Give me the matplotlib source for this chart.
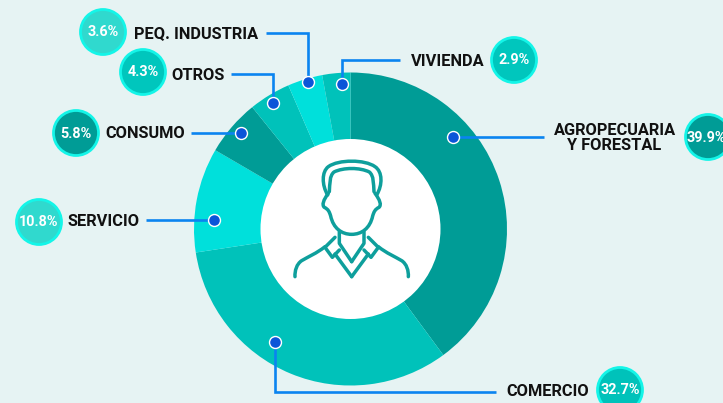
import matplotlib
matplotlib.use("Agg")
import matplotlib.pyplot as plt
from matplotlib.path import Path
from matplotlib.patches import PathPatch, Circle

# ---- data ----
sectors = ["AGROPECUARIA\nY FORESTAL", "COMERCIO", "SERVICIO", "CONSUMO", "OTROS", "PEQ. INDUSTRIA", "VIVIENDA"]
shares = [39.9, 32.7, 10.8, 5.8, 4.3, 3.6, 2.9]

# ---- style ----
BG = "#E6F3F3"
wedge_colors = ["#009C96", "#00C2BA", "#00E0DB", "#009C96", "#00C2BA", "#00E0DB", "#00C2BA"]
bubble_colors = ["#009C96", "#00C2BA", "#30D9CE", "#009C96", "#00C6BD", "#30D9CE", "#00C6BD"]
RING = "#14F5E8"
LEADER = "#0A84F0"
DOT = "#0B55D8"
ICON = "#0E9F9C"

# ---- annotation layout (pixels) ----
cx, cy, R, r_in = 350.5, 229, 156.5, 90
leaders = [
    [(453, 137), (544, 137)],
    [(275, 342), (275, 392), (496, 392)],
    [(214, 220), (146, 220)],
    [(241, 133), (191, 133)],
    [(273, 103), (273, 74), (231, 74)],
    [(308, 82), (308, 33), (266, 33)],
    [(342, 84), (342, 60), (400, 60)],
]
label_pos = [(614.5, 138, "center"), (506, 392, "left"), (67, 222, "left"), (105, 133.5, "left"),
             (171, 75, "left"), (134, 34, "left"), (411, 61, "left")]
bubble_pos = [(708, 137), (620, 390), (39, 222), (76, 133), (143, 72), (103, 32), (514, 60)]

fig = plt.figure(figsize=(7.23, 4.03), dpi=100, facecolor=BG)
ax = fig.add_axes([0, 0, 1, 1])
ax.set_facecolor(BG)

ax.pie(shares, colors=wedge_colors, startangle=-90, counterclock=True, radius=R, center=(cx, cy),
       wedgeprops=dict(linewidth=0), frame=False)
ax.set_xlim(0, 723)
ax.set_ylim(403, 0)
ax.set_aspect("equal")
ax.axis("off")
ax.add_patch(Circle((cx, cy), r_in, fc="white", ec="none", zorder=3))

FONT = "Roboto"
for name, val, pts, lab, bub, col in zip(sectors, shares, leaders, label_pos, bubble_pos, bubble_colors):
    xs, ys = zip(*pts)
    ax.plot(xs, ys, color=LEADER, lw=1.9, solid_joinstyle="miter", solid_capstyle="butt", zorder=4)
    ax.plot(xs[0], ys[0], "o", ms=8.6, mfc=DOT, mec="white", mew=1.0, zorder=5)
    ax.text(lab[0], lab[1], name, ha=lab[2], va="center", family=FONT, weight="bold", fontsize=11.8,
            color="#111111", linespacing=1.0, multialignment="center", zorder=6)
    ax.add_patch(Circle(bub, 22.5, fc=col, ec=RING, lw=2.0, zorder=6))
    ax.text(bub[0] + (-2 if val == 39.9 else 0), bub[1] + 0.5, f"{val}%", ha="center", va="center", family=FONT,
            weight="bold", fontsize=10.4, color="white", zorder=7)


# ---- person icon, traced in reference pixels ----
def P(x, y):
    return (280 + x / 3, 140 + y / 3)


def stroke(start, segs, mirror=False):
    m = (lambda p: (430 - p[0], p[1])) if mirror else (lambda p: p)
    verts = [P(*m(start))]
    codes = [Path.MOVETO]
    for s in segs:
        if len(s) == 3:
            verts += [P(*m(q)) for q in s]
            codes += [Path.CURVE4] * 3
        else:
            verts.append(P(*m(s[0])))
            codes.append(Path.LINETO)
    ax.add_patch(PathPatch(Path(verts, codes), fc="none", ec=ICON, lw=2.5, capstyle="round",
                           joinstyle="round", zorder=5))


# hair, outer and inner
stroke((143, 165), [((125, 135), (125, 95), (145, 80)), ((175, 58), (255, 58), (285, 80)),
                    ((308, 95), (308, 135), (290, 165))])
stroke((148, 155), [((150, 130), (148, 108), (162, 96)), ((190, 82), (240, 82), (268, 96)),
                    ((282, 108), (280, 130), (282, 155))])
# face
stroke((145, 160), [((130, 180), (125, 195), (133, 202)), ((145, 208), (148, 215), (152, 228)),
                    ((160, 265), (185, 283), (215, 283)), ((245, 283), (270, 265), (278, 228)),
                    ((282, 215), (285, 208), (297, 202)), ((305, 195), (300, 180), (285, 160))])
for mir in (False, True):
    # neck and inner collar
    stroke((178, 275), [((178, 310),), ((215, 365),)], mir)
    # collar wing
    stroke((165, 292), [((135, 322),), ((157, 352),), ((178, 330),)], mir)
    # sweater V
    stroke((165, 342), [((215, 410),)], mir)
    # shoulder
    stroke((135, 320), [((110, 340), (85, 350), (65, 362)), ((50, 372), (44, 392), (45, 410))], mir)

fig.savefig("out.png", dpi=100, facecolor=BG)
